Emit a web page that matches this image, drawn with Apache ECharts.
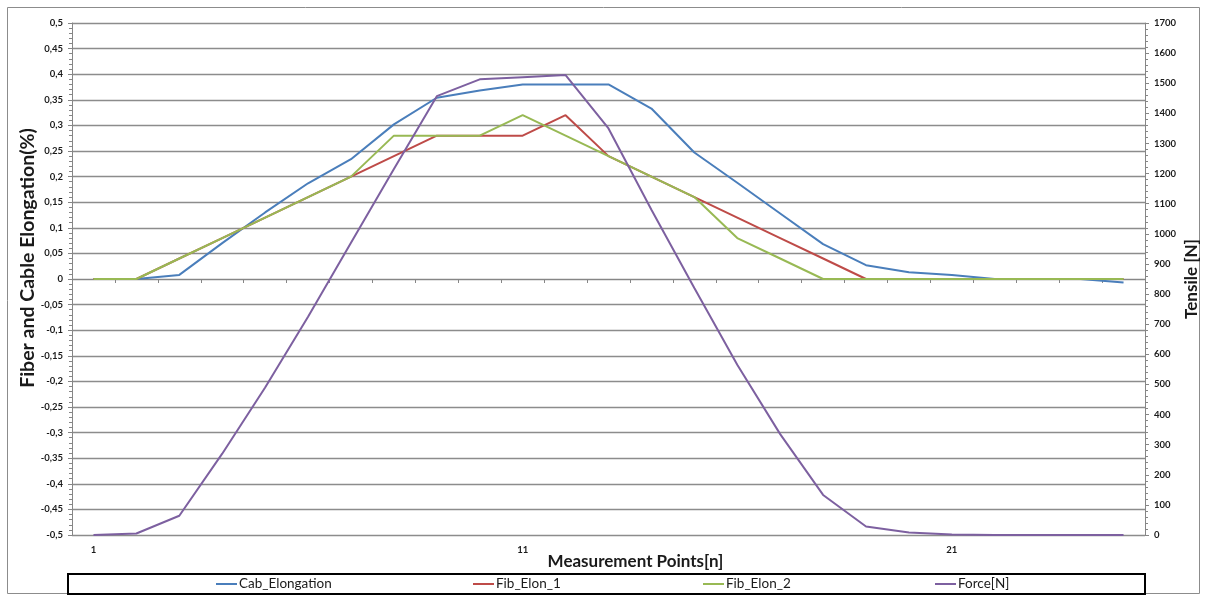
<!DOCTYPE html>
<html><head><meta charset="utf-8">
<script src="https://cdn.jsdelivr.net/npm/echarts@6/dist/echarts.min.js"></script>
<style>html,body{margin:0;padding:0;background:#fff}#c{width:1207px;height:596px}</style>
</head><body><div id="c"></div>
<script>
// ---- data ----
const categories = ['1','2','3','4','5','6','7','8','9','10','11','12','13','14','15','16','17','18','19','20','21','22','23','24','25'];
const cabElongation = [0,0,0.008,0.07,0.13,0.187,0.234,0.302,0.354,0.368,0.38,0.38,0.38,0.333,0.247,0.188,0.128,0.068,0.027,0.013,0.008,0,0,0,-0.007];
const fibElon1 = [0,0,0.04,0.08,0.12,0.16,0.2,0.24,0.28,0.28,0.28,0.32,0.24,0.2,0.16,0.12,0.08,0.04,0,0,0,0,0,0,0];
const fibElon2 = [0,0,0.04,0.08,0.12,0.16,0.2,0.28,0.28,0.28,0.32,0.28,0.24,0.2,0.16,0.08,0.04,0,0,0,0,0,0,0,0];
const forceN = [0,5,64,270,490,725,970,1215,1457,1513,1520,1527,1350,1080,820,565,335,133,28,8,2,0,0,0,0];
const seriesNames = ['Cab_Elongation','Fib_Elon_1','Fib_Elon_2','Force[N]'];
const leftMin = -0.5, leftMax = 0.5, leftStep = 0.05;
const rightMin = 0, rightMax = 1700, rightStep = 100;
const xLabelsShown = ['1','11','21'];

const FONT = 'Lato';
const colors = ['#4A7EBB','#BE4B48','#98B954','#7D60A0'];
const axisGray = '#868686';

const chart = echarts.init(document.getElementById('c'), null, {renderer:'canvas'});

function legendFor(name, left){
  return {
    data:[name], left:left, top:572, icon:'rect', itemWidth:21, itemHeight:2, itemGap:2,
    textStyle:{fontFamily:FONT, fontSize:13.5, color:'#1a1a1a', padding:[0,0,0,-3]},
    selectedMode:false
  };
}

const option = {
  animation:false,
  backgroundColor:'#fff',
  color: colors,
  grid:{left:72, right:62, top:23, bottom:61, containLabel:false, outerBoundsMode:'none'},
  legend:[
    legendFor(seriesNames[0], 211),
    legendFor(seriesNames[1], 468),
    legendFor(seriesNames[2], 698),
    legendFor(seriesNames[3], 930)
  ],
  graphic:[
    {type:'rect', shape:{x:7.5,y:7.5,width:1192,height:586}, style:{fill:'none', stroke:'#8c8c8c', lineWidth:1}, silent:true, z:-1},
    {type:'rect', shape:{x:68,y:574,width:1077,height:20}, style:{fill:'none', stroke:'#000', lineWidth:2}, silent:true}
  ],
  xAxis:{
    type:'category', data:categories, boundaryGap:true,
    name:'Measurement Points[n]', nameLocation:'middle', nameGap:18, nameMoveOverlap:false,
    nameTextStyle:{fontFamily:FONT, fontWeight:'bold', fontSize:17, color:'#1a1a1a', padding:[0,0,0,54]},
    axisLine:{show:true, lineStyle:{color:axisGray, width:1}},
    axisTick:{show:true, interval:0, length:4, lineStyle:{color:axisGray}},
    axisLabel:{interval:0, fontFamily:FONT, fontWeight:'bold', fontSize:9.5, color:'#1a1a1a', margin:10,
      formatter:(v)=> xLabelsShown.includes(v) ? v : ''},
    splitLine:{show:false}
  },
  yAxis:[
    {
      type:'value', min:leftMin, max:leftMax, interval:leftStep, position:'left',
      name:'Fiber and Cable Elongation(%)', nameLocation:'middle', nameGap:34, nameRotate:90, nameMoveOverlap:false,
      nameTextStyle:{fontFamily:FONT, fontWeight:'bold', fontSize:19.5, color:'#1a1a1a', padding:[0,0,0,42]},
      axisLine:{show:true, lineStyle:{color:axisGray, width:1}},
      axisTick:{show:true, length:4, lineStyle:{color:axisGray}},
      minorTick:{show:true, splitNumber:5, length:3, lineStyle:{color:axisGray}},
      axisLabel:{fontFamily:FONT, fontWeight:'bold', fontSize:9.5, color:'#1a1a1a', margin:9,
        formatter:(v)=> String(Math.round(v*100)/100).replace('.',',')},
      splitLine:{show:true, lineStyle:{color:'#8c8c8c', width:1.3}}
    },
    {
      type:'value', min:rightMin, max:rightMax, interval:rightStep, position:'right',
      name:'Tensile [N]', nameLocation:'middle', nameGap:38, nameRotate:90, nameMoveOverlap:false,
      nameTextStyle:{fontFamily:FONT, fontWeight:'bold', fontSize:17, color:'#1a1a1a'},
      axisLine:{show:true, lineStyle:{color:axisGray, width:1}},
      axisTick:{show:true, length:4, lineStyle:{color:axisGray}},
      minorTick:{show:true, splitNumber:5, length:3, lineStyle:{color:axisGray}},
      axisLabel:{fontFamily:FONT, fontWeight:'bold', fontSize:9.5, color:'#1a1a1a', margin:9,
        formatter:(v)=> String(Math.round(v))},
      splitLine:{show:false}
    }
  ],
  series:[
    {name:seriesNames[0], type:'line', data:cabElongation, yAxisIndex:0, symbol:'none', lineStyle:{width:2, color:colors[0]}, itemStyle:{color:colors[0]}},
    {name:seriesNames[1], type:'line', data:fibElon1, yAxisIndex:0, symbol:'none', lineStyle:{width:2, color:colors[1]}, itemStyle:{color:colors[1]}},
    {name:seriesNames[2], type:'line', data:fibElon2, yAxisIndex:0, symbol:'none', lineStyle:{width:2, color:colors[2]}, itemStyle:{color:colors[2]}},
    {name:seriesNames[3], type:'line', data:forceN, yAxisIndex:1, symbol:'none', lineStyle:{width:2, color:colors[3]}, itemStyle:{color:colors[3]}}
  ]
};
chart.setOption(option);
</script>
</body></html>
